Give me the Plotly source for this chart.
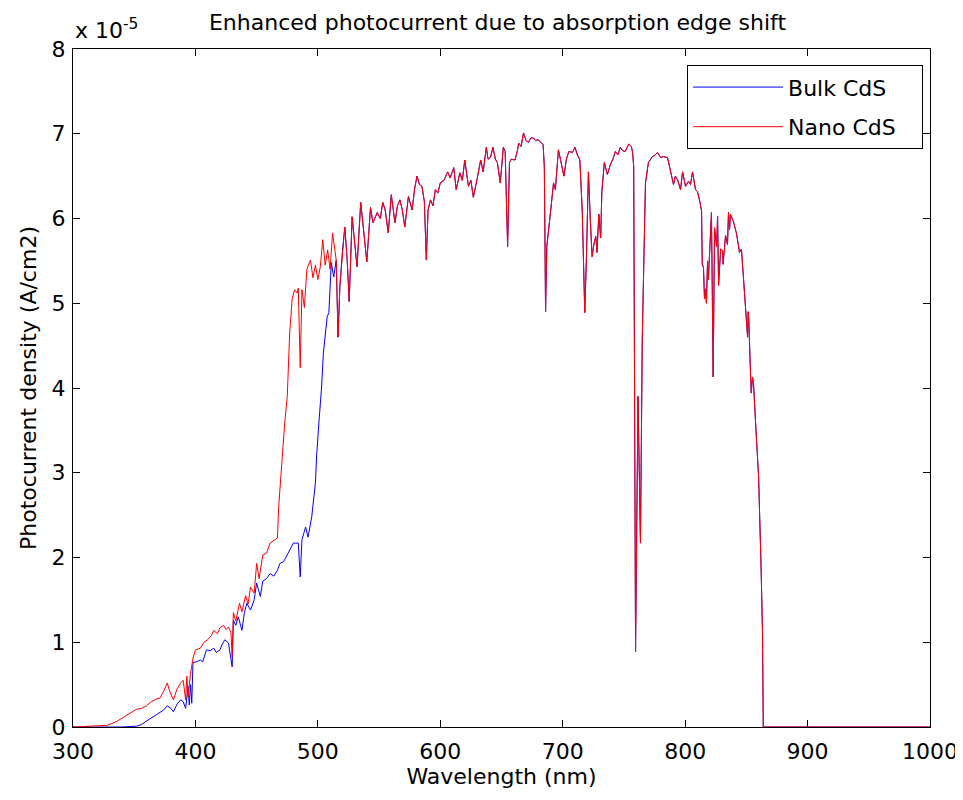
import plotly.graph_objects as go

# ---- data (photocurrent density in units of 1e-5 A/cm2) ----
wl_nano_edge = [300, 328, 335, 342, 348, 352, 356, 360, 364, 368, 371, 374, 377, 379, 382, 385, 388,
                390, 392, 393, 394, 396, 398, 400, 404, 407, 410, 413, 415, 418, 420, 423, 425, 427,
                429, 430, 431, 433, 436, 438, 441, 443, 445, 448, 450, 452, 455, 458, 461, 464, 467,
                468, 471, 473, 475, 477, 479, 481, 483, 484, 485.6, 487, 489, 491, 494, 496, 498,
                500, 502, 504, 506, 508, 510, 512]
nano_edge = [0, 0.02, 0.06, 0.12, 0.17, 0.21, 0.22, 0.25, 0.30, 0.33, 0.34, 0.42, 0.52, 0.42, 0.32,
             0.45, 0.52, 0.55, 0.32, 0.60, 0.35, 0.63, 0.81, 0.91, 0.93, 1.00, 1.03, 1.08, 1.14, 1.10,
             1.17, 1.20, 1.15, 1.18, 1.12, 0.83, 1.35, 1.25, 1.46, 1.36, 1.55, 1.45, 1.65, 1.58, 1.93,
             1.75, 2.03, 2.05, 2.17, 2.20, 2.23, 2.60, 3.27, 3.60, 3.90, 4.65, 5.05, 5.16, 5.12, 5.18,
             4.24, 5.16, 4.95, 5.40, 5.51, 5.30, 5.45, 5.28, 5.43, 5.75, 5.45, 5.63, 5.40, 5.83]

wl_bulk_edge = [300, 340, 352, 356, 360, 363, 367, 371, 374, 377, 380, 382, 385, 388, 390, 392, 394,
                395, 396, 397, 398, 401, 404, 406, 409, 412, 415, 417, 420, 422, 424, 427, 430, 431,
                433, 435, 438, 440, 442, 445, 448, 450, 453, 455, 458, 461, 464, 467, 469, 472, 475,
                478, 480, 484, 485.6, 487, 490, 492, 495, 498, 499, 501, 503, 504.5, 506, 507.6, 509,
                511, 513]
bulk_edge = [0, 0, 0.01, 0.03, 0.07, 0.10, 0.13, 0.17, 0.20, 0.25, 0.22, 0.18, 0.27, 0.32, 0.30, 0.22,
             0.48, 0.26, 0.50, 0.28, 0.76, 0.77, 0.79, 0.77, 0.91, 0.90, 0.93, 0.88, 0.91, 0.98, 1.03,
             0.99, 0.71, 1.26, 1.20, 1.30, 1.14, 1.35, 1.46, 1.38, 1.50, 1.70, 1.54, 1.72, 1.75, 1.81,
             1.78, 1.85, 1.93, 1.95, 2.03, 2.10, 2.17, 2.17, 1.77, 2.21, 2.36, 2.24, 2.48, 2.88, 3.20,
             3.62, 4.00, 4.41, 4.60, 4.84, 4.89, 5.48, 5.31]

wl_common = [515, 516.5, 518, 520, 522, 524, 525.6, 528, 530, 532, 535, 537, 540, 543, 545, 548.5,
             551, 553, 555, 557.5, 560, 563, 565, 567, 569, 571, 574, 577, 579, 581, 583, 585, 587,
             588.6, 590, 592, 594, 596, 598, 600, 603, 606, 608, 611, 613, 616, 618, 620, 623, 625,
             627, 630, 633, 635, 637.6, 639, 641, 643, 645, 646.6, 649, 651.5, 653, 655, 656.5, 658,
             661, 663, 664, 666, 668, 670, 672, 674, 676, 678, 680, 682, 684, 685, 686, 687, 689,
             690, 692.5, 694, 696.5, 698, 701, 703, 705, 708, 710, 712, 714, 716, 718, 719.5, 721,
             722.5, 724, 725.5, 727, 728, 729.5, 731, 732, 734, 736.5, 739, 741, 743, 745, 747, 749,
             751, 754, 756, 757, 758, 759.5, 761.5, 763.5, 765, 767.6, 770, 773.3, 775.5, 777.4,
             779.9, 782.3, 785.6, 788, 789.7, 790.5, 792, 793.8, 796.2, 797.9, 800.3, 802.7, 804.4,
             806, 808.5, 810, 812, 813.4, 814, 815, 815.8, 816.6, 817.4, 818.3, 819, 820, 821.5,
             822.9, 824, 825.7, 826.5, 827.3, 829, 830.5, 831, 833, 834.6, 835.4, 836.3, 837, 839.5,
             842, 843.6, 844.4, 846, 847.7, 848.5, 850, 851, 851.5, 852, 853.4, 854, 855, 855.9,
             857.5, 860, 862, 863.2, 863.8, 1000]
common_vals = [5.51, 4.60, 5.20, 5.60, 5.90, 5.50, 5.02, 6.02, 5.70, 5.43, 6.19, 5.90, 5.49, 6.13,
               5.95, 6.07, 6.00, 6.19, 6.10, 5.83, 6.28, 5.95, 6.15, 6.22, 6.10, 5.90, 6.26, 6.10,
               6.35, 6.50, 6.40, 6.38, 6.20, 5.51, 6.10, 6.22, 6.15, 6.34, 6.30, 6.42, 6.45, 6.55,
               6.48, 6.60, 6.34, 6.54, 6.45, 6.69, 6.38, 6.45, 6.25, 6.46, 6.69, 6.55, 6.84, 6.70,
               6.72, 6.84, 6.70, 6.66, 6.42, 6.84, 6.79, 5.67, 6.66, 6.70, 6.69, 6.80, 6.89, 6.85,
               7.01, 6.92, 6.90, 6.95, 6.95, 6.92, 6.93, 6.90, 6.87, 6.60, 4.90, 5.67, 5.90, 6.07,
               6.42, 6.34, 6.81, 6.70, 6.50, 6.70, 6.79, 6.78, 6.84, 6.75, 6.69, 6.07, 4.89, 5.60,
               6.55, 6.00, 5.55, 5.70, 5.79, 5.60, 6.05, 5.77, 6.32, 6.66, 6.52, 6.64, 6.70, 6.79,
               6.75, 6.84, 6.80, 6.79, 6.88, 6.85, 6.79, 6.61, 0.89, 3.90, 2.17, 4.60, 6.42, 6.66,
               6.73, 6.75, 6.78, 6.72, 6.73, 6.72, 6.58, 6.46, 6.40, 6.50, 6.46, 6.34, 6.55, 6.38,
               6.44, 6.40, 6.55, 6.34, 6.32, 6.20, 6.09, 5.46, 5.42, 5.05, 5.17, 5.00, 5.50, 5.28,
               5.70, 6.07, 4.13, 5.89, 5.67, 6.03, 5.21, 5.64, 5.62, 5.46, 5.80, 5.69, 6.07, 5.87,
               6.05, 5.96, 5.82, 5.67, 5.60, 5.64, 5.30, 5.19, 4.92, 4.60, 4.90, 4.80, 4.17, 3.94,
               4.13, 4.04, 3.60, 2.95, 1.90, 1.10, 0, 0]

x_ticks = [300, 400, 500, 600, 700, 800, 900, 1000]
y_ticks = [0, 1, 2, 3, 4, 5, 6, 7, 8]

FONT = "DejaVu Sans"
fs = 22
NB = "\u00a0"

# page body has an 8px default margin, so the figure is sized to compensate
W, H = 955, 792

fig = go.Figure()
fig.add_trace(go.Scatter(x=wl_bulk_edge + wl_common, y=bulk_edge + common_vals,
                         mode="lines", name="Bulk CdS" + NB * 3, legendgroup="a",
                         line=dict(color="#0000ff", width=1)))
fig.add_trace(go.Scatter(x=wl_nano_edge + wl_common, y=nano_edge + common_vals,
                         mode="lines", name="Nano CdS" + NB * 3, legendgroup="b",
                         line=dict(color="#ff0000", width=1)))

axis_common = dict(showline=True, linecolor="black", linewidth=1, mirror="ticks",
                   ticks="inside", ticklen=7, tickcolor="black", showgrid=False,
                   zeroline=False, automargin=False,
                   tickfont=dict(family=FONT, size=fs, color="black"))

fig.update_xaxes(range=[300, 1000], tickvals=x_ticks, ticklabelstandoff=5,
                 title=dict(text="Wavelength (nm)", font=dict(family=FONT, size=fs, color="black"),
                            standoff=4),
                 **axis_common)
fig.update_yaxes(range=[0, 8], tickvals=y_ticks, ticklabelstandoff=2,
                 title=dict(text="Photocurrent density (A/cm2)",
                            font=dict(family=FONT, size=fs, color="black"), standoff=8),
                 **axis_common)

fig.update_layout(
    width=W, height=H,
    margin=dict(l=65, r=33, t=41, b=73),
    paper_bgcolor="white", plot_bgcolor="white",
    title=dict(text="Enhanced photocurrent due to absorption edge shift",
               font=dict(family=FONT, size=fs, color="black"),
               x=489.5 / W, xanchor="center", xref="container",
               y=1 - 14 / H, yanchor="middle", yref="container"),
    legend=dict(x=0.7165, y=0.976, xanchor="left", yanchor="top",
                bgcolor="white", bordercolor="black", borderwidth=1,
                font=dict(family=FONT, size=fs, color="black"),
                traceorder="grouped", tracegroupgap=8, itemwidth=90),
    annotations=[dict(text="x 10<sup>-5</sup>", xref="paper", yref="paper",
                      x=0, y=1, xanchor="left", yanchor="bottom", showarrow=False,
                      font=dict(family=FONT, size=fs, color="black"), yshift=4)],
)

fig.write_html("out.html")
